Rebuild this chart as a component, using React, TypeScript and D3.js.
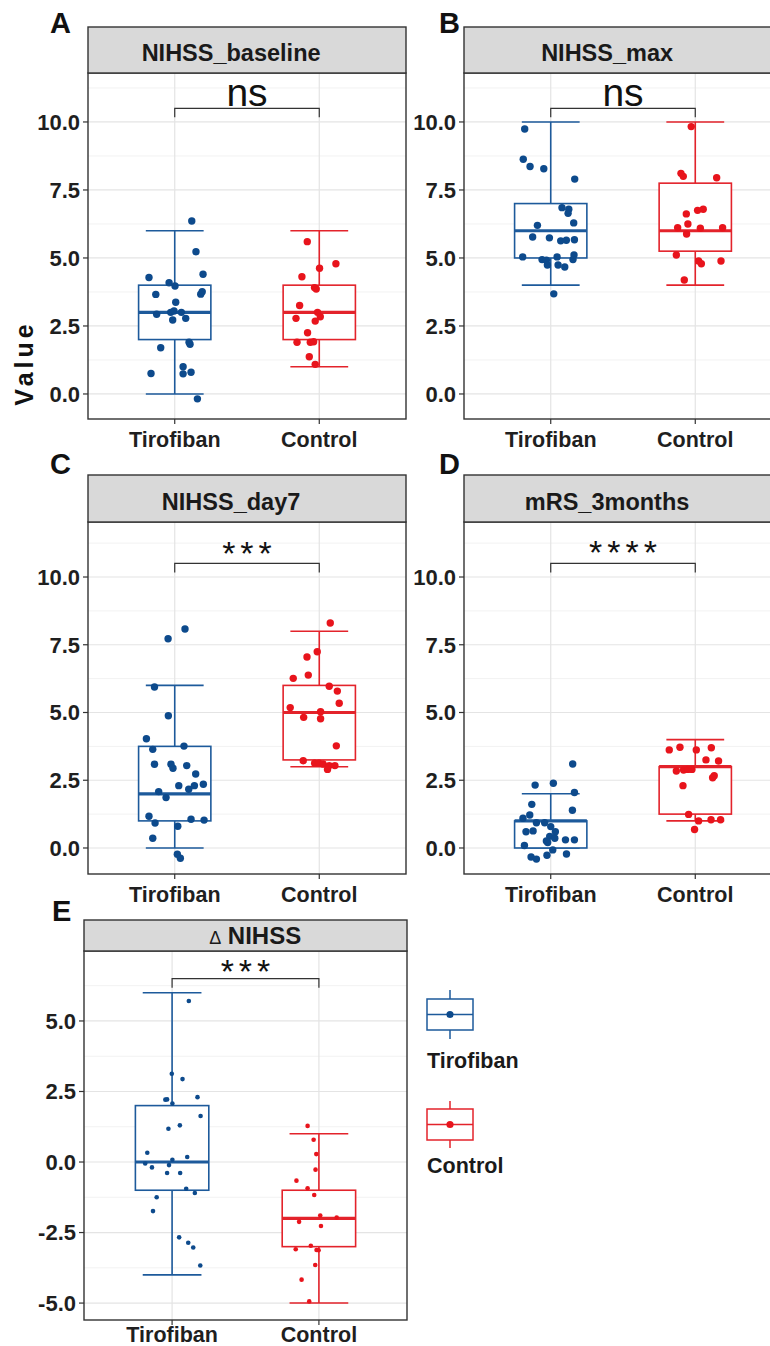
import React from "react";
import * as d3 from "d3";

// ---------- data ----------
const categories = ["Tirofiban", "Control"];
const panelLetters = ["A", "B", "C", "D", "E"];
const panelTitles = ["NIHSS_baseline", "NIHSS_max", "NIHSS_day7", "mRS_3months", "NIHSS"];
const sigLabels = ["ns", "ns", "***", "****", "***"];
const ticksMain = [0, 2.5, 5, 7.5, 10];
const ticksDelta = [-5, -2.5, 0, 2.5, 5];
const bracketValues = [10.5, 10.5, 10.5, 10.5, 6.5];

// box stats: [lower whisker, q1, median, q3, upper whisker]
const boxA_T = [0, 2, 3, 4, 6];
const boxA_C = [1, 2, 3, 4, 6];
const boxB_T = [4, 5, 6, 7, 10];
const boxB_C = [4, 5.25, 6, 7.75, 10];
const boxC_T = [0, 1, 2, 3.75, 6];
const boxC_C = [3, 3.25, 5, 6, 8];
const boxD_T = [0, 0, 1, 1, 2];
const boxD_C = [1, 1.25, 3, 3, 4];
const boxE_T = [-4, -1, 0, 2, 6];
const boxE_C = [-5, -3, -2, -1, 1];

// jittered points: [x jitter (category units), value]
const ptsA_T = [[0.118,6.36],[0.147,5.23],[-0.178,4.28],[-0.039,4.09],[0.002,3.97],[0.196,4.40],[-0.131,3.66],[0.18,3.67],[0.19,3.76],[0.007,3.37],[-0.125,2.93],[-0.028,3.0],[-0.005,3.05],[0.046,3.0],[0.076,2.78],[-0.014,2.72],[0.106,1.83],[0.099,1.90],[-0.097,1.70],[0.058,1.0],[0.058,0.74],[0.113,0.80],[-0.164,0.75],[0.157,-0.18]];
const ptsA_C = [[-0.083,5.60],[0.115,4.79],[0.002,4.62],[-0.12,4.31],[-0.033,3.91],[-0.021,3.86],[-0.136,3.25],[-0.161,2.78],[-0.012,3.0],[0.007,2.84],[-0.028,2.68],[-0.081,2.25],[-0.154,1.90],[-0.062,1.90],[-0.039,1.92],[-0.069,1.37],[-0.028,1.09]];
const ptsB_T = [[-0.18,9.74],[-0.19,8.63],[-0.143,8.36],[-0.048,8.28],[0.166,7.90],[0.078,6.85],[0.125,6.79],[0.12,6.64],[0.159,6.29],[-0.092,6.20],[-0.125,5.77],[-0.009,5.74],[0.069,5.63],[0.108,5.65],[0.164,5.67],[-0.194,5.04],[-0.06,4.94],[-0.03,4.92],[-0.023,4.74],[0.044,5.04],[0.051,4.74],[0.097,4.67],[0.154,4.94],[0.161,5.11],[0.021,3.68]];
const ptsB_C = [[-0.028,9.83],[-0.099,8.11],[-0.083,8.0],[0.148,7.95],[-0.062,6.62],[0.016,6.75],[0.055,6.79],[-0.051,6.25],[-0.122,6.11],[0.035,6.09],[0.189,6.11],[-0.06,5.88],[-0.131,5.11],[0.023,4.89],[0.042,4.79],[0.178,4.89],[-0.076,4.19]];
const ptsC_T = [[0.071,8.08],[-0.046,7.72],[-0.14,5.94],[-0.044,4.88],[-0.196,4.03],[-0.152,3.64],[0.064,3.76],[-0.14,3.09],[-0.026,3.09],[-0.012,2.94],[0.083,3.04],[0.145,2.73],[0.028,2.30],[0.097,2.17],[0.136,2.30],[0.198,2.35],[-0.111,2.08],[-0.06,1.86],[-0.178,1.17],[-0.136,0.92],[0.113,1.06],[0.203,1.03],[0.021,0.80],[-0.152,0.36],[0.018,-0.23],[0.039,-0.38]];
const ptsC_C = [[0.076,8.30],[-0.014,7.24],[-0.085,7.05],[-0.076,6.38],[-0.18,6.26],[0.069,5.97],[0.125,5.79],[0.138,5.34],[-0.201,5.18],[0.009,5.03],[-0.108,4.82],[0.009,4.77],[0.118,3.77],[-0.111,3.22],[-0.032,3.13],[-0.002,3.13],[0.026,3.10],[0.069,3.04],[0.108,3.04],[0.057,2.90]];
const ptsD_T = [[0.152,3.10],[-0.108,2.32],[0.018,2.39],[0.164,2.05],[-0.131,1.61],[0.150,1.39],[-0.145,1.22],[-0.192,1.10],[-0.099,0.93],[-0.042,0.93],[0.0,0.79],[0.032,0.60],[-0.171,0.60],[-0.122,0.63],[-0.007,0.43],[-0.03,0.26],[-0.021,0.20],[0.028,0.36],[0.102,0.30],[0.164,0.30],[-0.182,0.09],[0.014,-0.07],[-0.026,-0.27],[0.109,-0.22],[-0.136,-0.33],[-0.099,-0.41]];
const ptsD_C = [[-0.18,3.62],[-0.106,3.72],[0.007,3.62],[0.111,3.70],[0.074,3.25],[0.161,3.21],[-0.131,2.84],[-0.081,2.88],[-0.051,2.90],[-0.023,2.90],[0.131,2.67],[0.12,2.59],[-0.085,2.30],[-0.046,1.24],[0.023,1.0],[0.109,1.04],[0.175,1.04],[-0.005,0.68]];
const ptsE_T = [[0.114,5.71],[-0.002,3.13],[0.071,2.94],[-0.046,2.21],[-0.034,2.22],[0.002,2.07],[0.173,2.30],[0.194,1.63],[-0.025,1.18],[0.053,1.30],[-0.169,0.33],[0.103,0.18],[0.002,0.08],[-0.183,-0.05],[-0.021,-0.11],[-0.137,-0.19],[-0.034,-0.39],[0.055,-0.39],[0.096,-0.95],[0.155,-1.10],[-0.105,-1.25],[-0.13,-1.74],[0.048,-2.67],[0.11,-2.86],[0.144,-3.03],[0.192,-3.67]];
const ptsE_C = [[-0.077,1.28],[-0.036,0.79],[-0.018,0.28],[-0.023,-0.27],[-0.153,-0.66],[-0.077,-0.93],[-0.032,-1.17],[-0.135,-2.12],[0.009,-1.90],[0.121,-1.97],[0.014,-2.27],[-0.158,-3.09],[-0.055,-2.97],[-0.016,-3.12],[-0.002,-3.13],[-0.025,-3.65],[-0.118,-4.17],[-0.066,-4.94]];

const panelBoxes = [[boxA_T, boxA_C], [boxB_T, boxB_C], [boxC_T, boxC_C], [boxD_T, boxD_C], [boxE_T, boxE_C]];
const panelPoints = [[ptsA_T, ptsA_C], [ptsB_T, ptsB_C], [ptsC_T, ptsC_C], [ptsD_T, ptsD_C], [ptsE_T, ptsE_C]];

// ---------- styling / layout ----------
const FONT = "'Liberation Sans', Arial, Helvetica, sans-serif";
const lineColors = ["#1d5a9b", "#e3232b"];
const pointColors = ["#0d4a8c", "#e8141c"];

const layout = [
  { left: 88, right: 406, stripTop: 27, top: 73, bottom: 419, yDom: [-0.92, 11.8], letterX: 50, letterY: 33, titleFrac: 0.45, r: 3.7, labelGap: 28, starDy: 2 },
  { left: 464, right: 782, stripTop: 27, top: 73, bottom: 419, yDom: [-0.92, 11.8], letterX: 439, letterY: 33, titleFrac: 0.45, r: 3.7, labelGap: 28, starDy: 2 },
  { left: 88, right: 406, stripTop: 475, top: 522, bottom: 874, yDom: [-0.96, 12.03], letterX: 50, letterY: 474, titleFrac: 0.45, r: 3.7, labelGap: 28, starDy: 2 },
  { left: 464, right: 782, stripTop: 475, top: 522, bottom: 874, yDom: [-0.96, 12.03], letterX: 439, letterY: 474, titleFrac: 0.45, r: 3.7, labelGap: 28, starDy: 1 },
  { left: 84, right: 407, stripTop: 920, top: 951, bottom: 1320, yDom: [-5.6, 7.48], letterX: 52, letterY: 921, titleFrac: 0.53, r: 2.3, labelGap: 22, starDy: 4 },
];

function fmt(v: number) {
  return d3.format(".1f")(v).replace("\u2212", "-");
}

function Panel({ i }: { i: number }) {
  const L = layout[i];
  const x = d3.scaleLinear().domain([0.4, 2.6]).range([L.left, L.right]);
  const y = d3.scaleLinear().domain(L.yDom).range([L.bottom, L.top]);
  const ticks = i === 4 ? ticksDelta : ticksMain;
  const minor = [ticks[0] - 1.25, ...ticks.map((t) => t + 1.25)].filter((v) => v > L.yDom[0] && v < L.yDom[1]);
  const boxes = panelBoxes[i];
  const pts = panelPoints[i];
  const bw = x(1.25) - x(1);
  const cw = x(1.2) - x(1);
  const by = y(bracketValues[i]);
  const isStars = sigLabels[i] !== "ns";
  const starLS = 5;
  const stripText = panelTitles[i];
  return (
    <g>
      <rect x={L.left} y={L.top} width={L.right - L.left} height={L.bottom - L.top} fill="#fff" />
      {minor.map((m) => (
        <line key={"mi" + m} x1={L.left} x2={L.right} y1={y(m)} y2={y(m)} stroke="#f2f2f2" strokeWidth={1} />
      ))}
      {ticks.map((t) => (
        <line key={"ma" + t} x1={L.left} x2={L.right} y1={y(t)} y2={y(t)} stroke="#e4e4e4" strokeWidth={1.2} />
      ))}
      {categories.map((c, k) => (
        <line key={"vg" + c} x1={x(k + 1)} x2={x(k + 1)} y1={L.top} y2={L.bottom} stroke="#e4e4e4" strokeWidth={1.2} />
      ))}
      {boxes.map((b, k) => {
        const cx = x(k + 1);
        const col = lineColors[k];
        return (
          <g key={"bx" + k} stroke={col} fill="none">
            <line x1={cx} x2={cx} y1={y(b[4])} y2={y(b[3])} strokeWidth={1.6} />
            <line x1={cx} x2={cx} y1={y(b[1])} y2={y(b[0])} strokeWidth={1.6} />
            <line x1={cx - cw} x2={cx + cw} y1={y(b[4])} y2={y(b[4])} strokeWidth={1.6} />
            <line x1={cx - cw} x2={cx + cw} y1={y(b[0])} y2={y(b[0])} strokeWidth={1.6} />
            <rect x={cx - bw} y={y(b[3])} width={2 * bw} height={y(b[1]) - y(b[3])} fill="#fff" strokeWidth={1.6} />
            <line x1={cx - bw} x2={cx + bw} y1={y(b[2])} y2={y(b[2])} strokeWidth={3.2} />
          </g>
        );
      })}
      {pts.map((arr, k) =>
        arr.map((p, j) => (
          <circle key={"p" + k + "-" + j} cx={x(k + 1 + p[0])} cy={y(p[1])} r={L.r} fill={pointColors[k]} />
        ))
      )}
      <rect x={L.left} y={L.top} width={L.right - L.left} height={L.bottom - L.top} fill="none" stroke="#333" strokeWidth={1.4} />
      {/* strip */}
      <rect x={L.left} y={L.stripTop} width={L.right - L.left} height={L.top - L.stripTop} fill="#d9d9d9" stroke="#333" strokeWidth={1.4} />
      {i === 4 ? (
        <text x={L.left + (L.right - L.left) * L.titleFrac} y={L.top - 7} textAnchor="middle" fontFamily={FONT} fill="#1a1a1a">
          <tspan fontSize={18}>Δ</tspan>
          <tspan fontSize={24} fontWeight="bold">{" " + stripText}</tspan>
        </text>
      ) : (
        <text x={L.left + (L.right - L.left) * L.titleFrac} y={L.top - 12} textAnchor="middle" fontFamily={FONT} fontSize={23.5} fontWeight="bold" fill="#1a1a1a">
          {stripText}
        </text>
      )}
      {/* y axis */}
      {ticks.map((t) => (
        <g key={"yt" + t}>
          <line x1={L.left - 5} x2={L.left} y1={y(t)} y2={y(t)} stroke="#333" strokeWidth={1.2} />
          <text x={L.left - 8} y={y(t)} dy="0.36em" textAnchor="end" fontFamily={FONT} fontSize={22} fontWeight="bold" fill="#1f1f1f">
            {fmt(t)}
          </text>
        </g>
      ))}
      {/* x axis */}
      {categories.map((c, k) => (
        <g key={"xt" + c}>
          <line x1={x(k + 1)} x2={x(k + 1)} y1={L.bottom} y2={L.bottom + 5} stroke="#333" strokeWidth={1.2} />
          <text x={x(k + 1)} y={L.bottom + L.labelGap} textAnchor="middle" fontFamily={FONT} fontSize={21.5} fontWeight="bold" fill="#1f1f1f">
            {c}
          </text>
        </g>
      ))}
      {/* significance bracket */}
      <path d={`M${x(1)},${by + 9}V${by}H${x(2)}V${by + 9}`} fill="none" stroke="#333" strokeWidth={1.2} />
      {isStars ? (
        <text
          x={(x(1) + x(2)) / 2 + starLS / 2}
          y={by + L.starDy}
          textAnchor="middle"
          fontFamily={FONT}
          fontSize={34}
          letterSpacing={starLS}
          fill="#111"
        >
          {sigLabels[i]}
        </text>
      ) : (
        <text x={(x(1) + x(2)) / 2} y={by - 2} textAnchor="middle" fontFamily={FONT} fontSize={39} fill="#111">
          {sigLabels[i]}
        </text>
      )}
      {/* panel letter */}
      <text x={L.letterX} y={L.letterY} fontFamily={FONT} fontSize={29} fontWeight="bold" fill="#111">
        {panelLetters[i]}
      </text>
    </g>
  );
}

function Legend() {
  const items = [
    { top: 999, bottom: 1030, wt: 990, wb: 1039, text: 1068 },
    { top: 1109, bottom: 1140, wt: 1101, wb: 1148, text: 1173 },
  ];
  const x0 = 427;
  const w = 46;
  return (
    <g>
      {categories.map((c, k) => {
        const it = items[k];
        const cx = x0 + w / 2;
        const mid = (it.top + it.bottom) / 2;
        return (
          <g key={c}>
            <g stroke={lineColors[k]} strokeWidth={1.5} fill="none">
              <line x1={cx} x2={cx} y1={it.wt} y2={it.top} />
              <line x1={cx} x2={cx} y1={it.bottom} y2={it.wb} />
              <rect x={x0} y={it.top} width={w} height={it.bottom - it.top} fill="#fff" />
              <line x1={x0} x2={x0 + w} y1={mid} y2={mid} />
            </g>
            <circle cx={cx} cy={mid} r={3.6} fill={pointColors[k]} />
            <text x={x0} y={it.text} fontFamily={FONT} fontSize={21.5} fontWeight="bold" fill="#1a1a1a">
              {c}
            </text>
          </g>
        );
      })}
    </g>
  );
}

export default function App() {
  return (
    <svg width={770} height={1346} style={{ position: "absolute", left: 0, top: 0, display: "block", background: "#fff" }}>
      <rect width={770} height={1346} fill="#fff" />
      {layout.map((_, i) => (
        <Panel key={i} i={i} />
      ))}
      <Legend />
      <text
        transform="translate(33,363) rotate(-90)"
        textAnchor="middle"
        fontFamily={FONT}
        fontSize={25}
        fontWeight="bold"
        letterSpacing={4}
        fill="#111"
      >
        Value
      </text>
    </svg>
  );
}
